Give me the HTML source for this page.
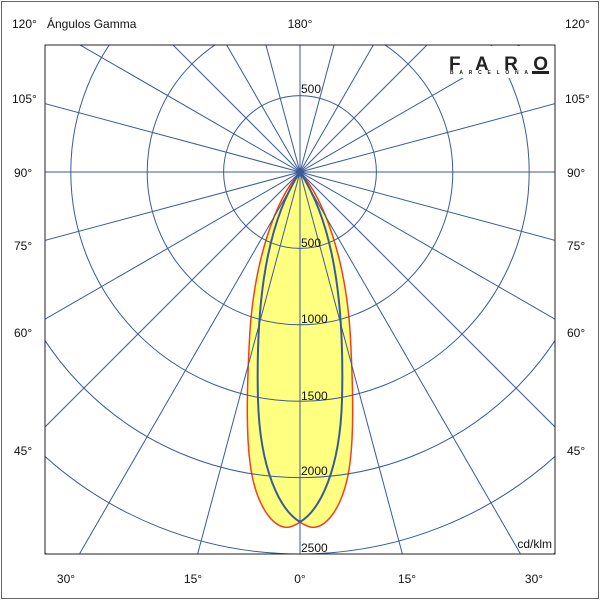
<!DOCTYPE html>
<html><head><meta charset="utf-8"><style>
html,body{margin:0;padding:0;background:#fff;width:600px;height:600px;overflow:hidden;}
svg{display:block;font-family:"Liberation Sans",Arial,sans-serif;overflow:hidden;}
</style></head><body>
<svg width="600" height="600" viewBox="0 0 600 600" xmlns="http://www.w3.org/2000/svg">
<rect x="1.5" y="1.5" width="597" height="597" fill="#fff" stroke="#666" stroke-width="1"/>
<defs><clipPath id="c"><rect x="45" y="45" width="510" height="509"/></clipPath></defs>
<g clip-path="url(#c)">
<path fill="#ffff80" stroke="#f04020" stroke-width="1.5" d="M300,172 C275,200 255,260 250,330 C246,400 246,450 253,480 C260,510 275,530 290,527 C296,525 300,522 300,522 C300,522 304,525 310,527 C325,530 340,510 347,480 C354,450 354,400 350,330 C345,260 325,200 300,172 Z"/>
<g stroke="#3a5a98" stroke-width="1" fill="none">
<circle cx="300" cy="172" r="76.4"/><circle cx="300" cy="172" r="152.8"/><circle cx="300" cy="172" r="229.2"/><circle cx="300" cy="172" r="305.6"/><circle cx="300" cy="172" r="382"/><circle cx="300" cy="172" r="458.4"/><circle cx="300" cy="172" r="534.8"/><circle cx="300" cy="172" r="611.2"/>
<line x1="-400" y1="172" x2="1000" y2="172"/>
<line x1="-376.1" y1="-9.2" x2="976.1" y2="353.2"/>
<line x1="-306.2" y1="-178" x2="906.2" y2="522"/>
<line x1="-195" y1="-323" x2="795" y2="667"/>
<line x1="-50" y1="-434.2" x2="650" y2="778.2"/>
<line x1="118.8" y1="-504.1" x2="481.2" y2="848.1"/>
<line x1="300" y1="-528" x2="300" y2="872"/>
<line x1="481.2" y1="-504.1" x2="118.8" y2="848.1"/>
<line x1="650" y1="-434.2" x2="-50" y2="778.2"/>
<line x1="795" y1="-323" x2="-195" y2="667"/>
<line x1="906.2" y1="-178" x2="-306.2" y2="522"/>
<line x1="976.1" y1="-9.2" x2="-376.1" y2="353.2"/>
</g>
<path fill="none" stroke="#3a5a98" stroke-width="2" d="M300,172 C262,230 256,320 258,400 C260,470 280,510 300,522 C320,510 340,470 342,400 C344,320 338,230 300,172 Z"/>
</g>
<rect x="45" y="45" width="510" height="509" fill="none" stroke="#222" stroke-width="1"/>
<rect x="441" y="46" width="113" height="32" fill="#fff"/>
<text x="449" y="70" font-size="19" font-weight="bold" fill="#222" textLength="99" lengthAdjust="spacing">FARO</text>
<rect x="532" y="71" width="17" height="3" fill="#222"/>
<text x="450" y="74" font-size="5" font-weight="bold" fill="#222" textLength="78" lengthAdjust="spacing">BARCELONA</text>
<g font-size="12" fill="#111">
<text x="12" y="28">120°</text><text x="47" y="28">Ángulos Gamma</text>
<text x="300" y="28" text-anchor="middle">180°</text>
<text x="565" y="28">120°</text>
<text x="12" y="103">105°</text><text x="565" y="103">105°</text>
<text x="14" y="177">90°</text><text x="567" y="177">90°</text>
<text x="14" y="250">75°</text><text x="567" y="250">75°</text>
<text x="14" y="337">60°</text><text x="567" y="337">60°</text>
<text x="14" y="455">45°</text><text x="567" y="455">45°</text>
<text x="66" y="583" text-anchor="middle">30°</text>
<text x="193" y="583" text-anchor="middle">15°</text>
<text x="300" y="583" text-anchor="middle">0°</text>
<text x="407" y="583" text-anchor="middle">15°</text>
<text x="534" y="583" text-anchor="middle">30°</text>
<text x="301" y="93">500</text>
<text x="301" y="247">500</text>
<text x="301" y="323">1000</text>
<text x="301" y="400">1500</text>
<text x="301" y="475">2000</text>
<text x="301" y="552">2500</text>
<text x="552" y="548" text-anchor="end">cd/klm</text>
</g>
</svg>
</body></html>
